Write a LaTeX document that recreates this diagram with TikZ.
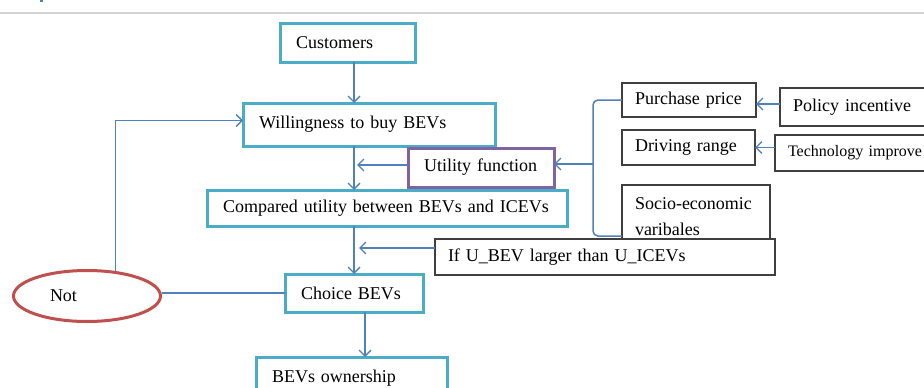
\documentclass[tikz,border=0pt]{standalone}
\usepackage{fontspec}
\setmainfont{Liberation Serif}
\usetikzlibrary{arrows.meta,shapes.geometric}

\definecolor{tealline}{HTML}{4BACC6}
\definecolor{purpleline}{HTML}{8064A2}
\definecolor{redline}{HTML}{C0504D}
\definecolor{flowblue}{HTML}{4F81BD}
\definecolor{grayline}{HTML}{3F3F3F}
\definecolor{rulegray}{HTML}{D4D4D4}

\tikzset{
  basebox/.style={rectangle, anchor=north west, align=left, fill=white,
    outer sep=0pt, inner ysep=0pt, font=\fontsize{18}{26}\selectfont},
  tealbox/.style={basebox, draw=tealline, line width=3pt, inner xsep=16pt},
  purplebox/.style={basebox, draw=purpleline, line width=3pt, inner xsep=16pt},
  graybox/.style={basebox, draw=grayline, line width=1.2pt, inner xsep=13pt},
  flow/.style={draw=flowblue, line width=1.5pt},
  arrow/.style={flow, -{Straight Barb[length=6pt,width=12pt,line width=1.4pt]}},
}

\begin{document}
\begin{tikzpicture}[x=1pt, y=-1pt]
  \useasboundingbox (0,0) rectangle (924,388);
  \clip (0,0) rectangle (924,388);

  % header rule and page fragment
  \fill[white] (0,0) rectangle (924,388);
  \draw[rulegray, line width=1.8pt] (0,13) -- (924,13);
  \fill[flowblue] (40,0) rectangle (42.5,2);

  % main column
  \node[tealbox, text width=103pt, minimum height=39pt] (customers) at (280,23) {Customers};
  \node[tealbox, text width=220pt, minimum height=43pt] (willing) at (243,103) {Willingness to buy BEVs};
  \node[purplebox, text width=114pt, minimum height=39pt] (utility) at (408,148) {Utility function};
  \node[tealbox, text width=328pt, minimum height=36pt] (compared) at (207,190) {Compared utility between BEVs and ICEVs};
  \node[tealbox, text width=106pt, minimum height=38pt] (choice) at (285,274) {Choice BEVs};
  \node[tealbox, text width=159pt, minimum height=42pt] (owner) at (256,357) {BEVs ownership};

  \node[ellipse, draw=redline, line width=3pt, minimum width=147pt, minimum height=51pt,
        inner sep=0pt, font=\fontsize{18}{22}\selectfont] (not) at (87,296) {Not\hspace*{47pt}};

  % attribute boxes on the right
  \node[graybox, text width=108pt, minimum height=34pt] (purchase) at (622,83) {Purchase price};
  \node[graybox, text width=134pt, minimum height=38pt] (policy) at (780,88) {Policy incentive};
  \node[graybox, text width=107pt, minimum height=35pt] (driving) at (622,130) {Driving range};
  \node[graybox, text width=139pt, minimum height=36pt, font=\fontsize{16}{20}\selectfont] (tech) at (775,135) {Technology improve};
  \node[graybox, text width=122pt, minimum height=64pt] (socio) at (622,185) {Socio-economic\\varibales};

  % bracket gathering the attributes
  \coordinate (brkbot) at (593,236);
  \coordinate (brkmid) at (593,164);
  \draw[flow, rounded corners=5pt] (purchase.west) -| (brkbot) -- (socio.west |- brkbot);
  \draw[arrow] (brkmid) -- (utility.east |- brkmid);

  \node[graybox, text width=314pt, minimum height=36pt] (ifbox) at (435,239) {If U\_BEV larger than U\_ICEVs};

  % column positions of the vertical flow
  \coordinate (cola) at (354,0);
  \coordinate (colb) at (365,0);
  \coordinate (utilend) at (357,165);
  \coordinate (ifend) at (359,248);

  \draw[arrow] (customers.south -| cola) -- (willing.north -| cola);
  \draw[arrow] (willing.south -| cola) -- (compared.north -| cola);
  \draw[arrow] (compared.south -| cola) -- (choice.north -| cola);
  \draw[arrow] (choice.south -| colb) -- (owner.north -| colb);

  \draw[arrow] (utility.west |- utilend) -- (utilend);
  \draw[arrow] (ifbox.west |- ifend) -- (ifend);

  \draw[arrow] ([yshift=3pt]policy.west) -- ([yshift=-4pt]purchase.east);
  \draw[arrow] (tech.west |- driving.east) -- (driving.east);

  % rejection loop back to willingness
  \draw[flow] (choice.west) -- (not.east |- choice.west);
  \draw[arrow] (not.41) |- ([yshift=4pt]willing.west);
\end{tikzpicture}
\end{document}
